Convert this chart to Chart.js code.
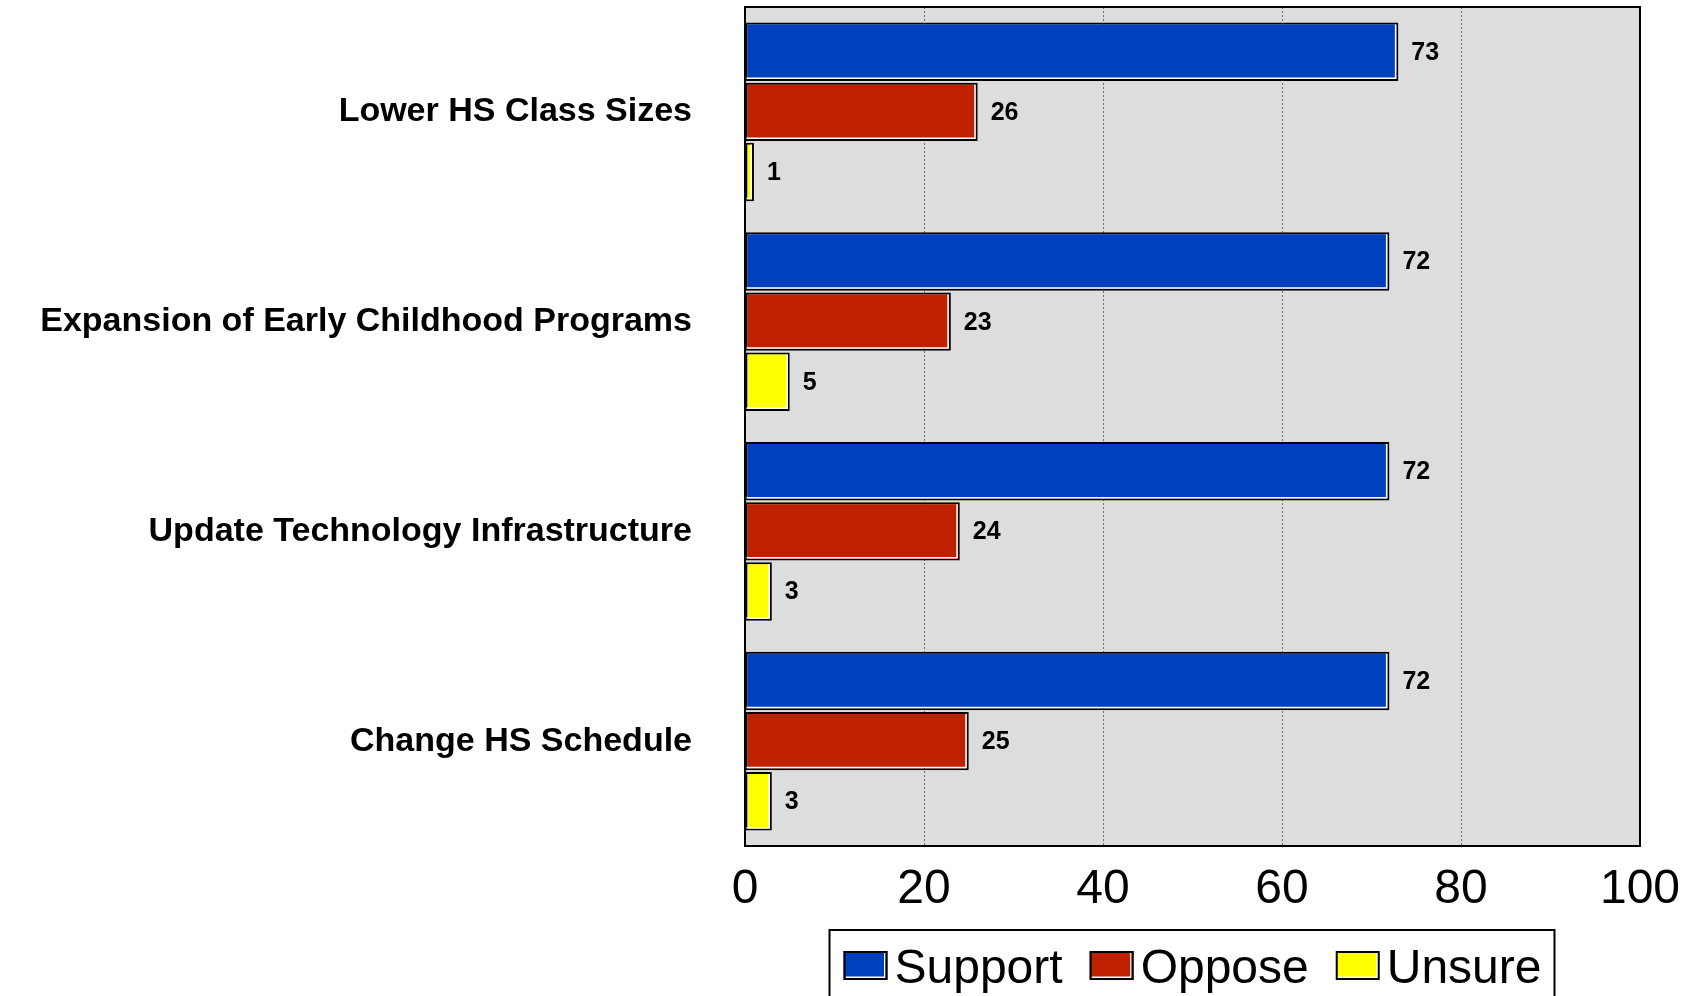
<!DOCTYPE html>
<html>
<head>
<meta charset="utf-8">
<script src="https://cdn.jsdelivr.net/npm/chart.js@4.4.1/dist/chart.umd.min.js"></script>
<style>
  html, body { margin: 0; padding: 0; background: #ffffff; }
  #wrap { width: 1700px; height: 996px; }
</style>
</head>
<body>
<div id="wrap"><canvas id="c" width="1700" height="996"></canvas></div>
<script>
const categories = ["Lower HS Class Sizes", "Expansion of Early Childhood Programs", "Update Technology Infrastructure", "Change HS Schedule"];
const supportValues = [73, 72, 72, 72];
const opposeValues = [26, 23, 24, 25];
const unsureValues = [1, 5, 3, 3];
const seriesNames = ["Support", "Oppose", "Unsure"];
const seriesColors = ["#0040BF", "#BF2000", "#FFFF00"];
const xTicks = [0, 20, 40, 60, 80, 100];

const FONT = "'Liberation Sans', Arial, Helvetica, sans-serif";

const plotStyle = {
  id: 'plotStyle',
  beforeDraw(chart) {
    const { ctx, chartArea: a } = chart;
    ctx.save();
    ctx.fillStyle = '#DDDDDD';
    ctx.fillRect(a.left, a.top, a.right - a.left, a.bottom - a.top);
    ctx.restore();
  },
  afterDatasetsDraw(chart) {
    const { ctx, chartArea: a } = chart;
    ctx.save();
    // white inner highlight on right & bottom of each bar
    chart.data.datasets.forEach((ds, di) => {
      const meta = chart.getDatasetMeta(di);
      meta.data.forEach((el) => {
        const p = el.getProps(['x', 'y', 'base', 'height'], true);
        const top = p.y - p.height / 2, bot = p.y + p.height / 2;
        ctx.strokeStyle = '#FFFFFF';
        ctx.lineWidth = 1.5;
        ctx.beginPath();
        ctx.moveTo(p.x - 2.75, top + 2);
        ctx.lineTo(p.x - 2.75, bot - 2.75);
        ctx.lineTo(p.base + 1, bot - 2.75);
        ctx.stroke();
      });
    });
    // value labels
    ctx.fillStyle = '#000000';
    ctx.font = 'bold 25px ' + FONT;
    ctx.textAlign = 'left';
    ctx.textBaseline = 'middle';
    chart.data.datasets.forEach((ds, di) => {
      const meta = chart.getDatasetMeta(di);
      meta.data.forEach((el, i) => {
        const p = el.getProps(['x', 'y'], true);
        ctx.fillText(String(ds.data[i]), p.x + 13, p.y + 1);
      });
    });
    // plot frame
    ctx.strokeStyle = '#000000';
    ctx.lineWidth = 2;
    ctx.strokeRect(a.left, a.top, a.right - a.left, a.bottom - a.top);
    ctx.restore();
  },
  afterDraw(chart) {
    // legend (drawn from dataset labels/colours)
    const { ctx, chartArea: a } = chart;
    ctx.save();
    ctx.font = '48px ' + FONT;
    const boxW = 44, boxH = 29, gapBT = 7, gapItems = 27;
    const items = chart.data.datasets.map(ds => ({ label: ds.label, color: ds.backgroundColor, w: ctx.measureText(ds.label).width }));
    let total = 0;
    items.forEach((it, i) => { total += boxW + gapBT + it.w + (i ? gapItems : 0); });
    const cx = (a.left + a.right) / 2;
    let x = cx - total / 2;
    const frameTop = a.bottom + 84;
    const boxTop = frameTop + 21;
    // frame
    ctx.strokeStyle = '#000000';
    ctx.lineWidth = 2;
    ctx.beginPath();
    ctx.moveTo(x - 14, chart.height + 10);
    ctx.lineTo(x - 14, frameTop);
    ctx.lineTo(x + total + 13, frameTop);
    ctx.lineTo(x + total + 13, chart.height + 10);
    ctx.stroke();
    items.forEach((it) => {
      ctx.fillStyle = it.color;
      ctx.fillRect(x, boxTop, boxW, boxH);
      ctx.strokeStyle = '#FFFFFF';
      ctx.lineWidth = 1.5;
      ctx.beginPath();
      ctx.moveTo(x + boxW - 2.75, boxTop + 2);
      ctx.lineTo(x + boxW - 2.75, boxTop + boxH - 2.75);
      ctx.lineTo(x + 2, boxTop + boxH - 2.75);
      ctx.stroke();
      ctx.strokeStyle = '#000000';
      ctx.lineWidth = 2;
      ctx.strokeRect(x + 1, boxTop + 1, boxW - 2, boxH - 2);
      ctx.fillStyle = '#000000';
      ctx.textAlign = 'left';
      ctx.textBaseline = 'alphabetic';
      ctx.fillText(it.label, x + boxW + gapBT, boxTop + 32);
      x += boxW + gapBT + it.w + gapItems;
    });
    ctx.restore();
  }
};

new Chart(document.getElementById('c'), {
  type: 'bar',
  data: {
    labels: categories,
    datasets: [
      { label: seriesNames[0], data: supportValues, backgroundColor: seriesColors[0] },
      { label: seriesNames[1], data: opposeValues, backgroundColor: seriesColors[1] },
      { label: seriesNames[2], data: unsureValues, backgroundColor: seriesColors[2] }
    ]
  },
  options: {
    indexAxis: 'y',
    responsive: false,
    animation: false,
    devicePixelRatio: 1,
    layout: { padding: { top: 7, right: 60, bottom: 80, left: 0 } },
    datasets: {
      bar: {
        borderColor: '#000000',
        borderWidth: 2,
        borderSkipped: false,
        categoryPercentage: 0.86,
        barPercentage: 0.97
      }
    },
    plugins: {
      legend: { display: false },
      tooltip: { enabled: false }
    },
    scales: {
      x: {
        min: 0,
        max: 100,
        afterBuildTicks(scale) { scale.ticks = xTicks.map(v => ({ value: v })); },
        afterFit(scale) { scale.height = 70; scale.paddingLeft = 0; scale.paddingRight = 0; },
        grid: {
          color: '#707070',
          lineWidth: 1,
          drawTicks: false,
          tickLength: 0
        },
        border: { display: false, dash: [2, 2] },
        ticks: {
          color: '#000000',
          padding: 15,
          font: { family: FONT, size: 48 }
        }
      },
      y: {
        afterFit(scale) { scale.width = 745; scale.paddingTop = 0; scale.paddingBottom = 0; },
        grid: { display: false, drawTicks: false, tickLength: 0 },
        border: { display: false },
        ticks: {
          autoSkip: false,
          color: '#000000',
          padding: 53,
          font: { family: FONT, size: 34, weight: 'bold' }
        }
      }
    }
  },
  plugins: [plotStyle]
});
</script>
</body>
</html>
